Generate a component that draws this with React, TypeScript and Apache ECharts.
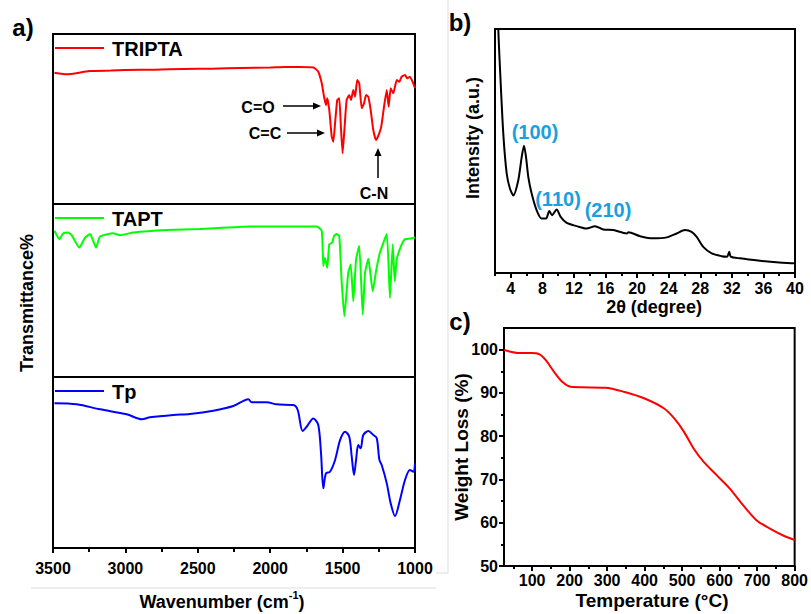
import React, { useEffect, useRef } from 'react';
import * as echarts from 'echarts';

// ---------- FTIR (panel a) ----------
const wavenumberTicks = [3500, 3000, 2500, 2000, 1500, 1000];

const triptaWavenumber = [3490, 3440, 3400, 3340, 3250, 3100, 3000, 2800, 2600, 2400, 2200, 2000, 1900, 1800, 1700, 1668, 1644, 1628, 1615, 1606, 1592, 1575, 1564, 1552, 1537, 1523, 1513, 1500, 1486, 1472, 1454, 1442, 1426, 1414, 1399, 1385, 1368, 1352, 1338, 1323, 1306, 1288, 1269, 1251, 1233, 1214, 1195, 1182, 1168, 1150, 1126, 1108, 1092, 1069, 1053, 1035, 1012, 1000];
const triptaTransmittance = [77.2, 76.6, 76.3, 76.9, 78.2, 78.5, 78.8, 79.0, 79.4, 79.6, 80.0, 80.3, 80.6, 80.6, 80.3, 77.8, 71.0, 63.1, 58.2, 62.2, 55.3, 39.6, 36.6, 47.5, 61.2, 62.2, 47.5, 29.8, 45.5, 61.2, 64.1, 61.2, 67.1, 63.1, 72.9, 71.0, 56.3, 59.2, 64.1, 63.1, 55.3, 43.5, 37.6, 40.6, 45.5, 57.2, 67.1, 57.2, 68.1, 65.1, 72.9, 71.9, 74.9, 75.9, 73.9, 74.9, 71.0, 68.1];

const taptWavenumber = [3490, 3456, 3429, 3394, 3371, 3318, 3279, 3244, 3203, 3175, 3084, 3037, 2945, 2715, 2485, 2140, 1900, 1679, 1644, 1633, 1622, 1606, 1592, 1571, 1559, 1541, 1523, 1506, 1488, 1461, 1444, 1426, 1407, 1385, 1361, 1345, 1322, 1292, 1269, 1242, 1195, 1173, 1154, 1140, 1126, 1092, 1069, 1035, 1000];
const taptTransmittance = [84.5, 79.7, 83.1, 83.5, 82.0, 74.8, 80.6, 82.6, 74.8, 81.2, 83.1, 82.0, 83.5, 84.9, 85.5, 87.0, 87.0, 87.0, 84.5, 64.1, 69.0, 63.2, 76.7, 77.7, 81.6, 82.6, 81.6, 54.5, 35.1, 60.3, 65.1, 43.8, 68.0, 75.8, 36.0, 60.3, 68.4, 49.6, 61.2, 71.9, 82.6, 45.7, 76.7, 55.4, 68.0, 76.7, 79.7, 80.0, 80.6];

const tpWavenumber = [3490, 3336, 3175, 2991, 2887, 2830, 2669, 2554, 2393, 2255, 2151, 2128, 2024, 1955, 1840, 1810, 1776, 1748, 1702, 1668, 1649, 1633, 1615, 1587, 1552, 1517, 1483, 1454, 1437, 1421, 1407, 1392, 1375, 1357, 1322, 1288, 1264, 1246, 1230, 1195, 1168, 1138, 1104, 1069, 1035, 1012, 1000];
const tpTransmittance = [84.6, 84.0, 81.1, 78.2, 75.3, 76.4, 77.8, 78.4, 80.3, 83.0, 87.0, 85.2, 85.2, 84.0, 83.6, 80.7, 68.4, 70.9, 75.8, 71.9, 55.4, 34.9, 43.7, 44.6, 51.5, 63.2, 68.0, 65.1, 53.4, 42.7, 51.5, 60.2, 58.3, 66.1, 68.4, 66.1, 64.2, 51.5, 48.5, 37.8, 26.1, 18.7, 28.1, 39.8, 45.6, 44.6, 49.5];

// ---------- PXRD (panel b) ----------
const thetaTicks = [4, 8, 12, 16, 20, 24, 28, 32, 36, 40];
const thetaMinorTicks = [2, 6, 10, 14, 18, 22, 26, 30, 34, 38];
const xrdTheta = [2.3, 2.42, 2.63, 3.05, 3.48, 3.9, 4.32, 4.95, 5.38, 5.67, 5.93, 6.22, 6.65, 7.28, 7.91, 8.46, 8.88, 9.22, 9.81, 10.32, 11.08, 12.35, 13.6, 14.67, 15.72, 16.98, 18.68, 18.9, 20.37, 22.05, 23.75, 25.0, 26.07, 26.9, 27.55, 28.38, 29.45, 30.7, 31.4, 31.67, 31.86, 33.03, 35.57, 37.25, 39.87, 40];
const xrdIntensity = [120, 100, 84, 57.1, 40.8, 34.5, 31.8, 38, 47.5, 52.2, 47.5, 39.3, 32.5, 25.7, 22.3, 22.3, 25.4, 23.7, 26, 23, 20.5, 19.2, 18.2, 19.2, 17.8, 17.6, 16.2, 16.7, 15.1, 14.2, 14.6, 16.2, 17.6, 16.9, 14.8, 10.7, 8, 6.9, 6.7, 8.7, 6.7, 6, 5, 4.5, 4, 4];
const peakLabels = ['(100)', '(110)', '(210)'];

// ---------- TGA (panel c) ----------
const tempTicks = [100, 200, 300, 400, 500, 600, 700, 800];
const tempMinorTicks = [50, 150, 250, 350, 450, 550, 650, 750];
const weightTicks = [50, 60, 70, 80, 90, 100];
const weightMinorTicks = [55, 65, 75, 85, 95];
const tgaTemperature = [25, 67, 98, 120, 137, 159, 181, 203, 233, 295, 347, 400, 452, 479, 505, 531, 558, 592, 627, 663, 698, 733, 768, 800];
const tgaWeight = [99.9, 99.2, 99.2, 98.9, 97.5, 94.8, 92.5, 91.4, 91.3, 91.2, 90.2, 88.7, 86.4, 84.1, 81.0, 77.1, 74.0, 71.0, 67.9, 64.0, 60.6, 58.7, 57.1, 56.0];

const FONT = '"Liberation Sans", Arial, Helvetica, sans-serif';

const zip = (xs: number[], ys: number[]) => xs.map((x, i) => [x, ys[i]]);
const plain = (v: number) => String(v);

function txt(text: string, x: number, y: number, size: number, opts: any = {}) {
  return {
    type: 'text',
    x,
    y,
    rotation: opts.rotation || 0,
    silent: true,
    z: 100,
    style: {
      text,
      fontSize: size,
      fontWeight: 'bold',
      fontFamily: FONT,
      fill: opts.color || '#000',
      textAlign: opts.align || 'center',
      textVerticalAlign: 'middle',
      align: opts.align || 'center',
      verticalAlign: 'middle',
      rich: opts.rich,
    },
  };
}

function line(x1: number, y1: number, x2: number, y2: number, color = '#000', w = 1.5) {
  return { type: 'line', silent: true, z: 90, shape: { x1, y1, x2, y2 }, style: { stroke: color, lineWidth: w } };
}

function head(points: number[][]) {
  return { type: 'polygon', silent: true, z: 90, shape: { points }, style: { fill: '#000' } };
}

const axisLineStyle = { color: '#000', width: 2 };
const tickLabel = { color: '#000', fontWeight: 'bold', fontSize: 16, fontFamily: FONT, formatter: plain };

export default function App() {
  const ref = useRef<HTMLDivElement>(null);

  useEffect(() => {
    document.body.style.margin = '0';
    if (!ref.current) return;
    const chart = echarts.init(ref.current, undefined, { renderer: 'svg' });

    const ftirX = (gridIndex: number, visible: boolean) => ({
      type: 'value',
      gridIndex,
      min: 1000,
      max: 3500,
      interval: 500,
      inverse: true,
      show: visible,
      position: 'bottom',
      axisLine: { show: true, onZero: false, lineStyle: axisLineStyle },
      axisTick: { show: true, length: 5, lineStyle: { color: '#000', width: 2 } },
      minorTick: { show: true, splitNumber: 2, length: 4, lineStyle: { color: '#000', width: 2 } },
      axisLabel: { ...tickLabel, margin: 12, customValues: wavenumberTicks },
      splitLine: { show: false },
      minorSplitLine: { show: false },
    });

    const hiddenY = (gridIndex: number) => ({
      type: 'value', gridIndex, min: 0, max: 100, show: false, splitLine: { show: false },
    });

    const lineSeries = (data: number[][], idx: number, color: string, smooth: number, xIdx?: number, yIdx?: number) => ({
      type: 'line',
      xAxisIndex: xIdx ?? idx,
      yAxisIndex: yIdx ?? idx,
      data,
      showSymbol: false,
      symbol: 'none',
      smooth,
      clip: true,
      lineStyle: { color, width: 2 },
      silent: true,
    });

    const option: any = {
      animation: false,
      backgroundColor: '#fff',
      grid: [
        { left: 53, top: 34, width: 362, height: 170, show: true, borderColor: '#000', borderWidth: 2 },
        { left: 53, top: 204, width: 362, height: 173, show: true, borderColor: '#000', borderWidth: 2 },
        { left: 53, top: 377, width: 362, height: 171, show: true, borderColor: '#000', borderWidth: 2 },
        { left: 495, top: 29, width: 300, height: 244, show: true, borderColor: '#000', borderWidth: 2 },
        { left: 504, top: 328, width: 295, height: 238, show: true, borderColor: '#000', borderWidth: 2 },
      ],
      xAxis: [
        ftirX(0, false),
        ftirX(1, false),
        ftirX(2, true),
        {
          type: 'value', gridIndex: 3, min: 2, max: 40, position: 'bottom',
          axisLine: { show: true, onZero: false, lineStyle: axisLineStyle },
          axisTick: { show: true, length: 5, customValues: thetaTicks, lineStyle: { color: '#000', width: 2 } },
          axisLabel: { ...tickLabel, margin: 7, customValues: thetaTicks },
          splitLine: { show: false },
        },
        {
          type: 'value', gridIndex: 3, min: 2, max: 40, position: 'bottom',
          axisLine: { show: false },
          axisTick: { show: true, length: 3, customValues: thetaMinorTicks, lineStyle: { color: '#000', width: 2 } },
          axisLabel: { show: false },
          splitLine: { show: false },
        },
        {
          type: 'value', gridIndex: 4, min: 25, max: 800, position: 'bottom',
          axisLine: { show: true, onZero: false, lineStyle: axisLineStyle },
          axisTick: { show: true, length: 5, customValues: tempTicks, lineStyle: { color: '#000', width: 2 } },
          axisLabel: { ...tickLabel, margin: 6, customValues: tempTicks },
          splitLine: { show: false },
        },
        {
          type: 'value', gridIndex: 4, min: 25, max: 800, position: 'bottom',
          axisLine: { show: false },
          axisTick: { show: true, length: 3, customValues: tempMinorTicks, lineStyle: { color: '#000', width: 2 } },
          axisLabel: { show: false },
          splitLine: { show: false },
        },
      ],
      yAxis: [
        hiddenY(0),
        hiddenY(1),
        hiddenY(2),
        hiddenY(3),
        {
          type: 'value', gridIndex: 4, min: 50, max: 105, position: 'left',
          axisLine: { show: true, onZero: false, lineStyle: axisLineStyle },
          axisTick: { show: true, length: 5, customValues: weightTicks, lineStyle: { color: '#000', width: 2 } },
          axisLabel: { ...tickLabel, margin: 6, customValues: weightTicks },
          splitLine: { show: false },
        },
        {
          type: 'value', gridIndex: 4, min: 50, max: 105, position: 'left',
          axisLine: { show: false },
          axisTick: { show: true, length: 3, customValues: weightMinorTicks, lineStyle: { color: '#000', width: 2 } },
          axisLabel: { show: false },
          splitLine: { show: false },
        },
      ],
      series: [
        lineSeries(zip(triptaWavenumber, triptaTransmittance), 0, '#ff0000', 0.15),
        lineSeries(zip(taptWavenumber, taptTransmittance), 1, '#00ff00', 0.15),
        lineSeries(zip(tpWavenumber, tpTransmittance), 2, '#0000ff', 0.3),
        lineSeries(zip(xrdTheta, xrdIntensity), 3, '#000000', 0.25, 3, 3),
        lineSeries(zip(tgaTemperature, tgaWeight), 4, '#ff0000', 0.3, 5, 4),
      ],
      graphic: [
        // faint separators from the figure composite
        line(448, 0, 448, 573, '#dddddd', 1),
        line(436, 573, 448, 573, '#dddddd', 1),
        line(31, 588, 436, 588, '#dddddd', 1),
        // panel letters
        txt('a)', 23, 27, 24, { align: 'center' }),
        txt('b)', 460, 22, 24, { align: 'center' }),
        txt('c)', 460, 321, 24, { align: 'center' }),
        // FTIR legends
        line(55, 48, 104, 48, '#ff0000', 2),
        txt('TRIPTA', 112, 49, 20, { align: 'left' }),
        line(55, 218, 104, 218, '#00ff00', 2),
        txt('TAPT', 112, 219, 20, { align: 'left' }),
        line(55, 391, 104, 391, '#0000ff', 2),
        txt('Tp', 112, 392, 20, { align: 'left' }),
        // FTIR annotations
        txt('C=O', 258, 107, 16),
        line(283, 106, 315, 106),
        head([[321, 106], [313, 102.5], [313, 109.5]]),
        txt('C=C', 265, 133, 16),
        line(287, 133, 319, 133),
        head([[325, 133], [317, 129.5], [317, 136.5]]),
        txt('C-N', 374, 193, 16),
        line(378, 178, 378, 155),
        head([[378, 148], [374.5, 156], [381.5, 156]]),
        // axis titles
        txt('Transmittance%', 27, 303, 18, { rotation: Math.PI / 2 }),
        txt('{a|Wavenumber (cm}{s|-1}{a|)}', 222, 600, 18, {
          rich: {
            a: { fontSize: 18, fontWeight: 'bold', fontFamily: FONT, fill: '#000', lineHeight: 22, verticalAlign: 'bottom' },
            s: { fontSize: 11, fontWeight: 'bold', fontFamily: FONT, fill: '#000', lineHeight: 22, verticalAlign: 'top' },
          },
        }),
        txt('Intensity (a.u.)', 473, 138, 18, { rotation: Math.PI / 2 }),
        txt('2θ (degree)', 654, 307, 18),
        txt('Weight Loss (%)', 461, 447, 19, { rotation: Math.PI / 2 }),
        txt('Temperature (°C)', 652, 600, 19),
        // PXRD peak labels
        txt(peakLabels[0], 535, 132, 20, { color: '#1aa0e0' }),
        txt(peakLabels[1], 558, 199, 20, { color: '#1aa0e0' }),
        txt(peakLabels[2], 608, 210, 20, { color: '#1aa0e0' }),
      ],
    };

    chart.setOption(option);
    return () => chart.dispose();
  }, []);

  return <div ref={ref} style={{ width: 811, height: 614 }} />;
}
